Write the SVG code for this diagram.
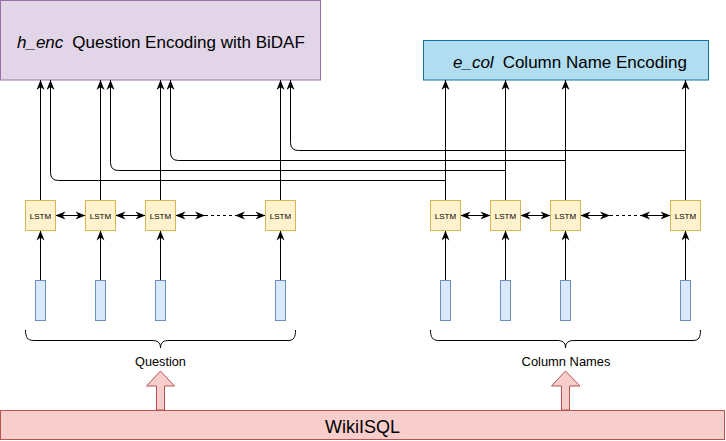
<svg xmlns="http://www.w3.org/2000/svg" width="726" height="441" viewBox="0 0 726 441">
<style>
.lstm{fill:#fff2cc;stroke:#d6b656;stroke-width:1}
.inp{fill:#dae8fc;stroke:#6c8ebf;stroke-width:1}
.lbl{font-family:"Liberation Sans",Arial,sans-serif;fill:#000}
.lt{font-size:8px;text-anchor:middle}
.e{fill:none;stroke:#000;stroke-width:1}
.up{marker-end:url(#ah)}
.bi{marker-start:url(#ahs);marker-end:url(#ah)}
.dash{stroke-dasharray:3 3}
</style>
<defs>
<marker id="ah" markerUnits="userSpaceOnUse" markerWidth="10" markerHeight="10" viewBox="0 0 10 10" refX="10" refY="5" orient="auto">
<path d="M0,1 L10,5 L0,9 L3,5 z" fill="#000"/>
</marker>
<marker id="ahs" markerUnits="userSpaceOnUse" markerWidth="10" markerHeight="10" viewBox="0 0 10 10" refX="10" refY="5" orient="auto-start-reverse">
<path d="M0,1 L10,5 L0,9 L3,5 z" fill="#000"/>
</marker>
</defs>

<g id="h_enc">
<rect x="0.5" y="0.5" width="320" height="79.5" fill="#e1d5e7" stroke="#9673a6"/>
<text class="lbl" x="17" y="47.5" font-size="17"><tspan font-style="italic">h_enc</tspan><tspan dx="9">Question Encoding with BiDAF</tspan></text>
</g>
<g id="e_col">
<rect x="423.5" y="40.5" width="285" height="39.5" fill="#b1ddf0" stroke="#10739e"/>
<text class="lbl" x="453" y="68" font-size="17"><tspan font-style="italic">e_col</tspan><tspan dx="9">Column Name Encoding</tspan></text>
</g>

<g id="connectors">
<!-- question LSTM to h_enc -->
<path class="e up" d="M40.5,200 V80"/>
<path class="e up" d="M100.5,200 V80"/>
<path class="e up" d="M160.5,200 V80"/>
<path class="e up" d="M280.5,200 V80"/>
<!-- column LSTM to e_col -->
<path class="e up" d="M445.5,200 V80"/>
<path class="e up" d="M505.5,200 V80"/>
<path class="e up" d="M565.5,200 V80"/>
<path class="e up" d="M685.5,200 V80"/>
<!-- column LSTM to h_enc -->
<path class="e up" d="M445.5,200 V180.5 H58.5 Q50.5,180.5 50.5,172.5 V80"/>
<path class="e up" d="M505.5,200 V170.5 H118.5 Q110.5,170.5 110.5,162.5 V80"/>
<path class="e up" d="M565.5,200 V160.5 H178.5 Q170.5,160.5 170.5,152.5 V80"/>
<path class="e up" d="M685.5,200 V150.5 H298.5 Q290.5,150.5 290.5,142.5 V80"/>
<!-- bidirectional -->
<path class="e bi" d="M55.5,215.5 H85.5"/>
<path class="e bi" d="M115.5,215.5 H145.5"/>
<path class="e bi" d="M175.5,215.5 H205"/>
<path class="e dash" d="M205,215.5 H235"/>
<path class="e bi" d="M235,215.5 H265.5"/>
<path class="e bi" d="M460.5,215.5 H490.5"/>
<path class="e bi" d="M520.5,215.5 H550.5"/>
<path class="e bi" d="M580.5,215.5 H610"/>
<path class="e dash" d="M610,215.5 H640"/>
<path class="e bi" d="M640,215.5 H670.5"/>
<!-- inputs -->
<path class="e up" d="M40.5,280 V230.5"/>
<path class="e up" d="M100.5,280 V230.5"/>
<path class="e up" d="M160.5,280 V230.5"/>
<path class="e up" d="M280.5,280 V230.5"/>
<path class="e up" d="M445.5,280 V230.5"/>
<path class="e up" d="M505.5,280 V230.5"/>
<path class="e up" d="M565.5,280 V230.5"/>
<path class="e up" d="M685.5,280 V230.5"/>
</g>

<g id="q_lstm1"><rect class="lstm" x="25.5" y="200.5" width="30" height="30"/><text class="lbl lt" x="40.5" y="218.5">LSTM</text></g>
<g id="q_lstm2"><rect class="lstm" x="85.5" y="200.5" width="30" height="30"/><text class="lbl lt" x="100.5" y="218.5">LSTM</text></g>
<g id="q_lstm3"><rect class="lstm" x="145.5" y="200.5" width="30" height="30"/><text class="lbl lt" x="160.5" y="218.5">LSTM</text></g>
<g id="q_lstm4"><rect class="lstm" x="265.5" y="200.5" width="30" height="30"/><text class="lbl lt" x="280.5" y="218.5">LSTM</text></g>
<g id="c_lstm1"><rect class="lstm" x="430.5" y="200.5" width="30" height="30"/><text class="lbl lt" x="445.5" y="218.5">LSTM</text></g>
<g id="c_lstm2"><rect class="lstm" x="490.5" y="200.5" width="30" height="30"/><text class="lbl lt" x="505.5" y="218.5">LSTM</text></g>
<g id="c_lstm3"><rect class="lstm" x="550.5" y="200.5" width="30" height="30"/><text class="lbl lt" x="565.5" y="218.5">LSTM</text></g>
<g id="c_lstm4"><rect class="lstm" x="670.5" y="200.5" width="30" height="30"/><text class="lbl lt" x="685.5" y="218.5">LSTM</text></g>

<g id="q_in1"><rect class="inp" x="35.5" y="280.5" width="10" height="40"/></g>
<g id="q_in2"><rect class="inp" x="95.5" y="280.5" width="10" height="40"/></g>
<g id="q_in3"><rect class="inp" x="155.5" y="280.5" width="10" height="40"/></g>
<g id="q_in4"><rect class="inp" x="275.5" y="280.5" width="10" height="40"/></g>
<g id="c_in1"><rect class="inp" x="440.5" y="280.5" width="10" height="40"/></g>
<g id="c_in2"><rect class="inp" x="500.5" y="280.5" width="10" height="40"/></g>
<g id="c_in3"><rect class="inp" x="560.5" y="280.5" width="10" height="40"/></g>
<g id="c_in4"><rect class="inp" x="680.5" y="280.5" width="10" height="40"/></g>

<g id="q_brace">
<path class="e" d="M25.5,330 C25.5,337 27.5,340.5 33.5,340.5 H152 C157,340.5 160.5,342 160.5,348 C160.5,342 164,340.5 169,340.5 H288 C294,340.5 295.5,337 295.5,330"/>
<text class="lbl" x="160.5" y="366" font-size="12.7" text-anchor="middle">Question</text>
</g>
<g id="c_brace">
<path class="e" d="M430.5,330 C430.5,337 432.5,340.5 438.5,340.5 H557 C562,340.5 565.5,342 565.5,348 C565.5,342 569,340.5 574,340.5 H693 C699,340.5 700.5,337 700.5,330"/>
<text class="lbl" x="566" y="366" font-size="12.9" text-anchor="middle">Column Names</text>
</g>

<g id="q_block_arrow"><polygon points="156.5,410 156.5,386 146.5,386 160.5,371 174.5,386 164.5,386 164.5,410" fill="#f8cecc" stroke="#b85450"/></g>
<g id="c_block_arrow"><polygon points="561.5,410 561.5,386 551.5,386 565.5,371 580,386 569.5,386 569.5,410" fill="#f8cecc" stroke="#b85450"/></g>

<g id="wikisql">
<rect x="0.5" y="410.5" width="724" height="29" fill="#f8cecc" stroke="#b85450"/>
<text class="lbl" x="362.5" y="433" font-size="18" text-anchor="middle">WikiISQL</text>
</g>
</svg>
